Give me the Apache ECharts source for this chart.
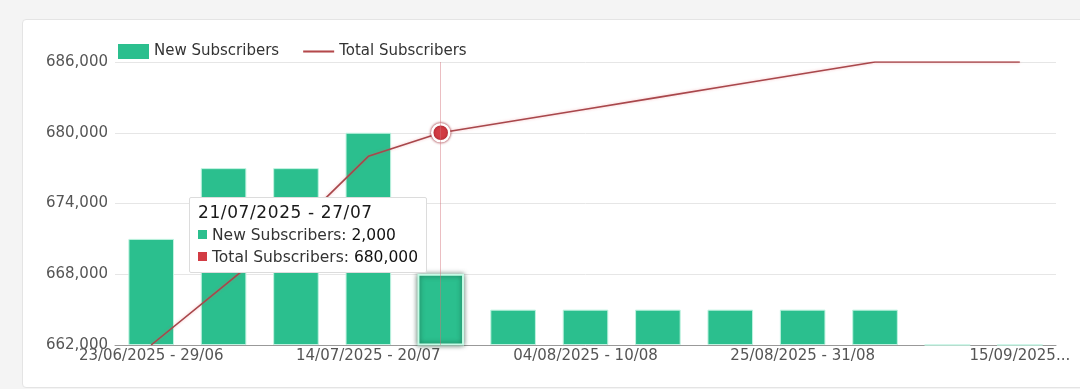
<!DOCTYPE html>
<html>
<head>
<meta charset="utf-8">
<script src="https://cdn.jsdelivr.net/npm/echarts@6/dist/echarts.min.js"></script>
<style>
  html, body { margin:0; padding:0; background:#f4f4f4; width:1080px; height:389px; overflow:hidden; }
  #card { position:absolute; left:22px; top:19px; width:1080px; height:367px; background:#fff; border:1px solid #e4e4e4; border-radius:4px; }
  #chart { position:absolute; left:0; top:0; width:1080px; height:389px; }
</style>
</head>
<body>
<div id="card"></div>
<div id="chart"></div>
<script>
const categories = [
  "23/06/2025 - 29/06", "30/06/2025 - 06/07", "07/07/2025 - 13/07", "14/07/2025 - 20/07",
  "21/07/2025 - 27/07", "28/07/2025 - 03/08", "04/08/2025 - 10/08", "11/08/2025 - 17/08",
  "18/08/2025 - 24/08", "25/08/2025 - 31/08", "01/09/2025 - 07/09", "08/09/2025 - 14/09",
  "15/09/2025 - 21/09"
];
const newSubscribers = [3000, 5000, 5000, 6000, 2000, 1000, 1000, 1000, 1000, 1000, 1000, 0, 0];
const totalSubscribers = [662000, 667000, 672000, 678000, 680000, 681000, 682000, 683000, 684000, 685000, 686000, 686000, 686000];
const yTicks = { min: 662000, max: 686000, interval: 6000 };
const y2Range = { min: 0, max: 8000 };

const FONT = "DejaVu Sans";
const LINE = '#a8474b';
const fmt = v => v.toLocaleString('en-US');
const chart = echarts.init(document.getElementById('chart'));
chart.setOption({
  animation: false,
  backgroundColor: 'transparent',
  textStyle: { fontFamily: FONT },
  legend: {
    left: 113, top: 39, itemWidth: 31, itemHeight: 15, itemGap: 24,
    textStyle: { fontFamily: FONT, fontSize: 15, color: '#333' },
    itemStyle: { borderWidth: 0 },
    data: [
      { name: 'New Subscribers', icon: 'rect', itemStyle: { color: '#2bbf8e', borderWidth: 0 } },
      { name: 'Total Subscribers', icon: 'path://M0,0 L30,0 L30,2 L0,2 Z', itemStyle: { color: '#b4484b', borderWidth: 0 } }
    ]
  },
  grid: { left: 115, right: 24, top: 62, bottom: 44, containLabel: false },
  tooltip: {
    trigger: 'axis',
    alwaysShowContent: true,
    axisPointer: { type: 'line', lineStyle: { color: 'rgba(210,110,120,0.45)', width: 1, type: 'solid' } },
    position: function () { return [189, 197]; },
    backgroundColor: '#fff',
    borderColor: '#dcdcdc',
    borderWidth: 1,
    padding: [3, 8, 4, 8],
    extraCssText: 'box-shadow:none;border-radius:2px;',
    textStyle: { fontFamily: FONT, fontSize: 15, color: '#222' },
    formatter: function (params) {
      let s = '<div style="line-height:23px;font-family:DejaVu Sans;font-size:17px;letter-spacing:0.6px;color:#1a1a1a">' + params[0].axisValue + '</div>';
      params.forEach(p => {
        s += '<div style="line-height:22px;font-family:DejaVu Sans;font-size:15.5px;color:#333">' +
          '<span style="display:inline-block;width:9px;height:9px;background:' + p.color + ';margin-right:5px;vertical-align:1px"></span>' +
          p.seriesName + ': <span style="color:#111;font-weight:500">' + fmt(p.value) + '</span></div>';
      });
      return s;
    }
  },
  xAxis: {
    type: 'category',
    data: categories,
    axisTick: { show: false },
    axisLine: { lineStyle: { color: '#999', width: 1 } },
    axisLabel: {
      interval: 2, margin: 4, fontFamily: FONT, fontSize: 15, color: '#555',
      formatter: (v, i) => i === categories.length - 1 ? v.slice(0, 10) + '...' : v
    }
  },
  yAxis: [
    {
      type: 'value', min: yTicks.min, max: yTicks.max, interval: yTicks.interval,
      axisLine: { show: false }, axisTick: { show: false },
      axisLabel: { margin: 7, fontFamily: FONT, fontSize: 15, color: '#555', formatter: v => fmt(v) },
      splitLine: { lineStyle: { color: '#e6e6e6', width: 1 } }
    },
    {
      type: 'value', min: y2Range.min, max: y2Range.max, show: false,
      splitLine: { show: false }
    }
  ],
  series: [
    {
      name: 'New Subscribers', type: 'bar', yAxisIndex: 1,
      data: newSubscribers, barWidth: '63%',
      itemStyle: { color: '#2bbf8e', borderColor: '#bff3e0', borderWidth: 1 },
      emphasis: {
        itemStyle: { color: '#2bbf8e', borderColor: '#c6fbe6', borderWidth: 2, shadowBlur: 5, shadowColor: 'rgba(20,60,40,0.7)' }
      }
    },
    {
      name: 'Total Subscribers', type: 'line', yAxisIndex: 0,
      data: totalSubscribers, showSymbol: false, symbol: 'circle', symbolSize: 17,
      color: '#d23c44',
      lineStyle: { color: LINE, width: 1.6, shadowBlur: 3, shadowColor: 'rgba(230,90,100,0.4)' },
      itemStyle: { color: '#d23c44', borderColor: '#fff', borderWidth: 2.5 },
      emphasis: {
        scale: false,
        lineStyle: { color: LINE, width: 1.6 },
        itemStyle: { color: '#d23c44', borderColor: '#fff', borderWidth: 2.5, shadowBlur: 3, shadowColor: 'rgba(150,30,40,1)' }
      }
    }
  ]
});
chart.dispatchAction({ type: 'showTip', seriesIndex: 0, dataIndex: 4 });
</script>
</body>
</html>
